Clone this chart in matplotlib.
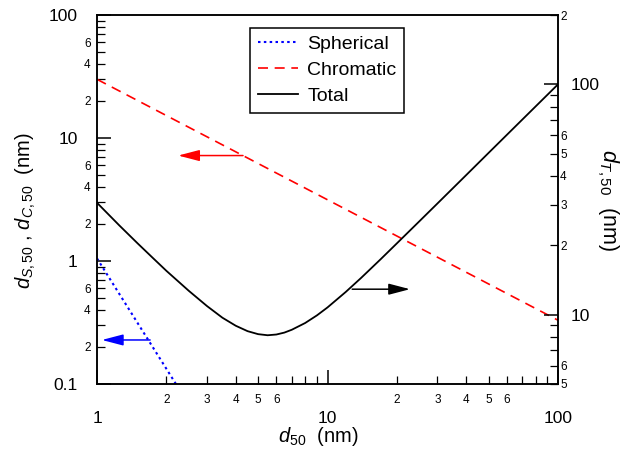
import matplotlib
matplotlib.use('Agg')
from matplotlib import pyplot as plt

plt.rcParams['font.family'] = 'Liberation Sans'
plt.rcParams['mathtext.fontset'] = 'custom'
plt.rcParams['mathtext.it'] = 'Liberation Sans:italic'
plt.rcParams['mathtext.rm'] = 'Liberation Sans'

# spherical and chromatic contributions (left axis)
sph_x = [1, 2.2]
sph_y = [1.05, 0.1]

chr_x = [1, 100]
chr_y = [30, 0.33]

# total (right axis)
tot_x = [1, 1.25, 1.5, 1.75, 2, 2.5, 3, 3.5, 4, 4.5, 5, 5.5, 6, 6.5, 7, 8, 9, 10,
         12, 14, 17, 20, 25, 30, 40, 50, 70, 100]
tot_y = [30.6, 24.4, 20.4, 17.6, 15.5, 12.7, 10.9, 9.7, 8.95, 8.48, 8.23, 8.14, 8.2, 8.36,
         8.6, 9.2, 9.93, 10.75, 12.55, 14.45, 17.4, 20.4, 25.4, 30.4, 40.4, 50.4, 70.3, 100]

x_major = [1, 10, 100]
x_minor = [2, 3, 4, 5, 6, 7, 8, 9, 20, 30, 40, 50, 60, 70, 80, 90]
x_minor_lab = ['2', '3', '4', '5', '6', '', '', '', '2', '3', '4', '5', '6', '', '', '']

yl_major = [0.1, 1, 10, 100]
yl_minor = [0.2, 0.3, 0.4, 0.5, 0.6, 0.7, 0.8, 0.9, 2, 3, 4, 5, 6, 7, 8, 9, 20, 30, 40, 50, 60, 70, 80, 90]
yl_minor_lab = ['2', '', '4', '', '6', '', '', ''] * 3

yr_major = [10, 100]
yr_minor = [5, 6, 7, 8, 9, 20, 30, 40, 50, 60, 70, 80, 90, 200]
yr_minor_lab = ['5', '6', '', '', '', '2', '3', '4', '5', '6', '', '', '', '2']

fig = plt.figure(figsize=(6.39, 4.57), dpi=100)
ax = fig.add_axes([97/639, 1 - 384/457, 461/639, 369/457])
ax2 = ax.twinx()

l1, = ax.plot(sph_x, sph_y, color='blue', ls=(0, (1.2, 1.6)), lw=1.5, label='Spherical')
l2, = ax.plot(chr_x, chr_y, color='red', ls=(0, (6, 4)), lw=1.2, label='Chromatic')
l3, = ax2.plot(tot_x, tot_y, color='black', lw=1.3, label='Total')

ax.set_xscale('log')
ax.set_yscale('log')
ax.set_xlim(1, 100)
ax.set_ylim(0.1, 100)
ax2.set_yscale('log')
ax2.set_ylim(5, 200)

ax.set_xticks(x_major)
ax.set_xticklabels([str(v) for v in x_major])
ax.set_xticks(x_minor, minor=True)
ax.set_xticklabels(x_minor_lab, minor=True)
ax.set_yticks(yl_major)
ax.set_yticklabels(['0.1', '1', '10', '100'])
ax.set_yticks(yl_minor, minor=True)
ax.set_yticklabels(yl_minor_lab, minor=True)
ax2.set_yticks(yr_major)
ax2.set_yticklabels(['10', '100'])
ax2.set_yticks(yr_minor, minor=True)
ax2.set_yticklabels(yr_minor_lab, minor=True)

ax.tick_params(which='both', direction='in', top=False, right=False)
ax.tick_params(which='major', length=10, width=1.1, labelsize=12.5)
ax.tick_params(which='minor', length=6, width=0.9, labelsize=8.5)
ax.tick_params(axis='x', which='major', pad=19.5)
ax.tick_params(axis='x', which='minor', pad=7)
ax.tick_params(axis='y', which='major', pad=14)
ax.tick_params(axis='y', which='minor', pad=4.5)
ax2.tick_params(which='both', direction='in')
ax2.tick_params(which='major', length=10, width=1.1, labelsize=12.5, pad=9)
ax2.tick_params(which='minor', length=6, width=0.9, labelsize=8.5, pad=1.5)

for a in (ax, ax2):
    for s in a.spines.values():
        s.set_linewidth(1.1)

# arrows pointing to the axis each curve belongs to
aprops = dict(arrowstyle='-|>,head_length=0.65,head_width=0.17', lw=1.1,
              mutation_scale=20, shrinkA=0, shrinkB=0)
ax.annotate('', xy=(2.25, 7.2), xytext=(4.3, 7.2), arrowprops=dict(aprops, color='red'))
ax.annotate('', xy=(1.05, 0.228), xytext=(1.7, 0.228), arrowprops=dict(aprops, color='blue'))
ax2.annotate('', xy=(22.8, 12.9), xytext=(12.8, 12.9), arrowprops=dict(aprops, color='black'))

ax.set_xlabel(r'$d_{\mathit{50}}$  (nm)', fontsize=14.5)
ax.xaxis.set_label_coords(0.48, -0.111)
ax.set_ylabel(r'$d_{\mathit{S,50}}$ , $d_{\mathit{C,50}}$  (nm)', fontsize=14.5)
ax.yaxis.set_label_coords(-0.128, 0.469)
ax2.set_ylabel(r'$d_{\mathit{T,50}}$  (nm)', fontsize=15.5, rotation=270, va='bottom')
ax2.yaxis.set_label_coords(1.080, 0.50)

leg = ax2.legend(handles=[l1, l2, l3], loc='upper left', bbox_to_anchor=(0.332, 0.965),
                 fontsize=14, labelspacing=0.42, handlelength=2.05, handletextpad=0.5,
                 borderpad=0.4, borderaxespad=0, fancybox=False, framealpha=1)
leg.get_frame().set_edgecolor('black')
leg.get_frame().set_linewidth(1.1)

fig.savefig('out.png', dpi=100)
